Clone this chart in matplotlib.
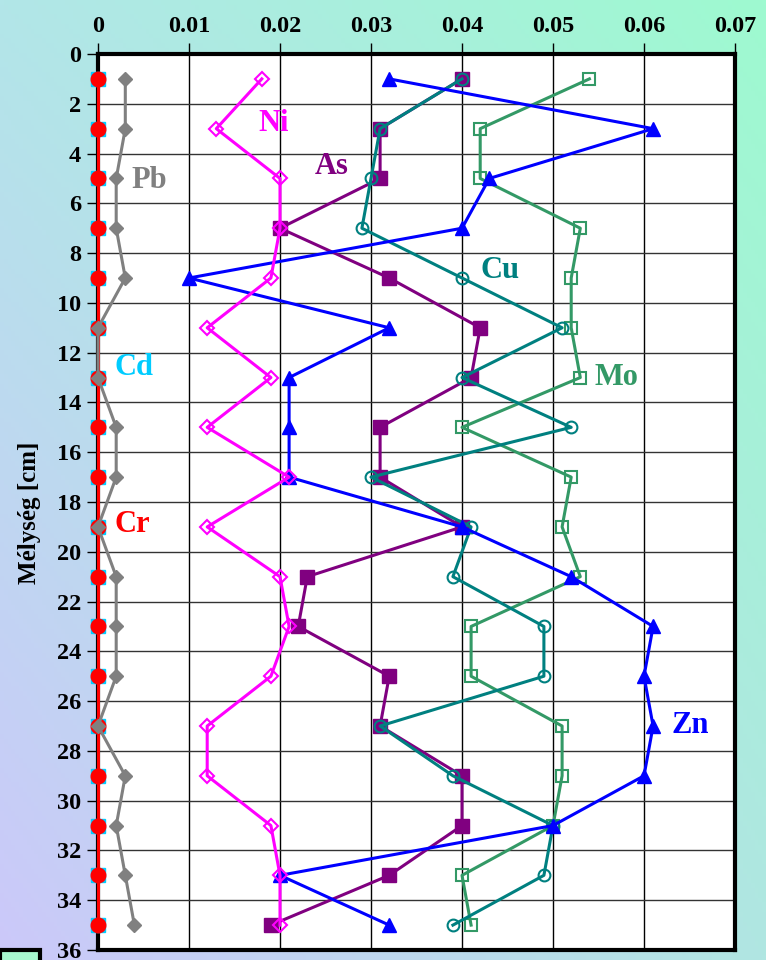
import numpy as np
import matplotlib
matplotlib.use("Agg")
import matplotlib.pyplot as plt
from matplotlib.patches import Rectangle

# depth of samples [cm]
depth = [1, 3, 5, 7, 9, 11, 13, 15, 17, 19, 21, 23, 25, 27, 29, 31, 33, 35]

cd = [0] * 18
cr = [0] * 18
pb = [0.003, 0.003, 0.002, 0.002, 0.003, 0.0, 0.0, 0.002, 0.002, 0.0,
      0.002, 0.002, 0.002, 0.0, 0.003, 0.002, 0.003, 0.004]
ni = [0.018, 0.013, 0.020, 0.020, 0.019, 0.012, 0.019, 0.012, 0.021, 0.012,
      0.020, 0.021, 0.019, 0.012, 0.012, 0.019, 0.020, 0.020]
As = [0.040, 0.031, 0.031, 0.020, 0.032, 0.042, 0.041, 0.031, 0.031, 0.040,
      0.023, 0.022, 0.032, 0.031, 0.040, 0.040, 0.032, 0.019]
cu = [0.040, 0.031, 0.030, 0.029, 0.040, 0.051, 0.040, 0.052, 0.030, 0.041,
      0.039, 0.049, 0.049, 0.031, 0.039, 0.050, 0.049, 0.039]
mo = [0.054, 0.042, 0.042, 0.053, 0.052, 0.052, 0.053, 0.040, 0.052, 0.051,
      0.053, 0.041, 0.041, 0.051, 0.051, 0.050, 0.040, 0.041]
zn = [0.032, 0.061, 0.043, 0.040, 0.010, 0.032, 0.021, 0.021, 0.021, 0.040,
      0.052, 0.061, 0.060, 0.061, 0.060, 0.050, 0.020, 0.032]

x_ticks = [0, 0.01, 0.02, 0.03, 0.04, 0.05, 0.06, 0.07]
x_labels = ["0", "0.01", "0.02", "0.03", "0.04", "0.05", "0.06", "0.07"]
y_ticks = list(range(0, 37, 2))

serif = ["Liberation Serif", "DejaVu Serif"]

fig = plt.figure(figsize=(7.66, 9.60), dpi=100)

# gradient background
bg = fig.add_axes([0, 0, 1, 1], zorder=-10)
tl = np.array([178, 230, 232]) / 255
tr = np.array([158, 250, 208]) / 255
bl = np.array([204, 200, 250]) / 255
br = np.array([176, 230, 226]) / 255
u = np.linspace(0, 1, 200)[None, :, None]
v = np.linspace(0, 1, 200)[:, None, None]
img = (1 - v) * ((1 - u) * tl + u * tr) + v * ((1 - u) * bl + u * br)
bg.imshow(img, aspect="auto", extent=[0, 1, 1, 0])
bg.set_axis_off()

ax = fig.add_axes([98 / 766, 10 / 960, 637 / 766, 896 / 960])
ax.set_facecolor("white")

lw = 2.2
ax.plot(cd, depth, color="#00ccff", lw=lw, marker="s", ms=10, mfc="#00ccff", mec="#00ccff", zorder=3, clip_on=False)
ax.plot(cr, depth, color="red", lw=lw, marker="o", ms=10.5, mfc="red", mec="red", zorder=4, clip_on=False)
ax.plot(pb, depth, color="#808080", lw=lw, marker="D", ms=7.5, mfc="#808080", mec="#808080", zorder=5, clip_on=False)
ax.plot(mo, depth, color="#339966", lw=lw, marker="s", ms=8.5, mfc="none", mec="#339966", mew=1.5, zorder=5)
ax.plot(As, depth, color="#800080", lw=lw, marker="s", ms=9.5, mfc="#800080", mec="#800080", zorder=6)
ax.plot(cu, depth, color="#008080", lw=lw, marker="o", ms=8.5, mfc="none", mec="#008080", mew=1.5, zorder=7)
ax.plot(zn, depth, color="#0000ff", lw=lw, marker="^", ms=10, mfc="#0000ff", mec="#0000ff", zorder=8)
ax.plot(ni, depth, color="#ff00ff", lw=lw, marker="D", ms=7.5, mfc="none", mec="#ff00ff", mew=1.5, zorder=9)

lab = dict(fontsize=22, fontweight="bold", family=serif, va="center", ha="left", zorder=10)
ax.text(0.0176, 2.8, "Ni", color="#ff00ff", **lab)
ax.text(0.0238, 4.5, "As", color="#800080", **lab)
ax.text(0.0037, 5.1, "Pb", color="#808080", **lab)
ax.text(0.0420, 8.7, "Cu", color="#008080", **lab)
ax.text(0.0018, 12.6, "Cd", color="#00ccff", **lab)
ax.text(0.0546, 13.0, "Mo", color="#339966", **lab)
ax.text(0.0018, 18.9, "Cr", color="red", **lab)
ax.text(0.0630, 27.0, "Zn", color="#0000ff", **lab)

ax.set_xlim(0, 0.07)
ax.set_ylim(36, 0)
ax.set_xticks(x_ticks)
ax.set_xticklabels(x_labels)
ax.set_yticks(y_ticks)
ax.xaxis.tick_top()
ax.tick_params(axis="both", direction="out", length=8, width=1, colors="black", pad=4)
for t in ax.get_xticklabels() + ax.get_yticklabels():
    t.set_fontsize(17.5)
    t.set_fontweight("bold")
    t.set_family(serif)

ax.xaxis.grid(True, color="black", lw=1)
ax.yaxis.grid(True, color="#333333", lw=1)
ax.set_axisbelow(True)
for s in ax.spines.values():
    s.set_color("black")
    s.set_linewidth(3)

ax.set_ylabel("Mélység [cm]", fontsize=18, fontweight="bold", family=serif, va="center")
ax.yaxis.set_label_coords(-0.107, 0.488)

# bit of the legend box showing at the bottom-left corner
fig.patches.append(Rectangle((0, -0.01), 40 / 766, 20 / 960, transform=fig.transFigure,
                             facecolor="#a8f8d0", edgecolor="black", lw=3, zorder=20))

fig.savefig("out.png", dpi=100)
